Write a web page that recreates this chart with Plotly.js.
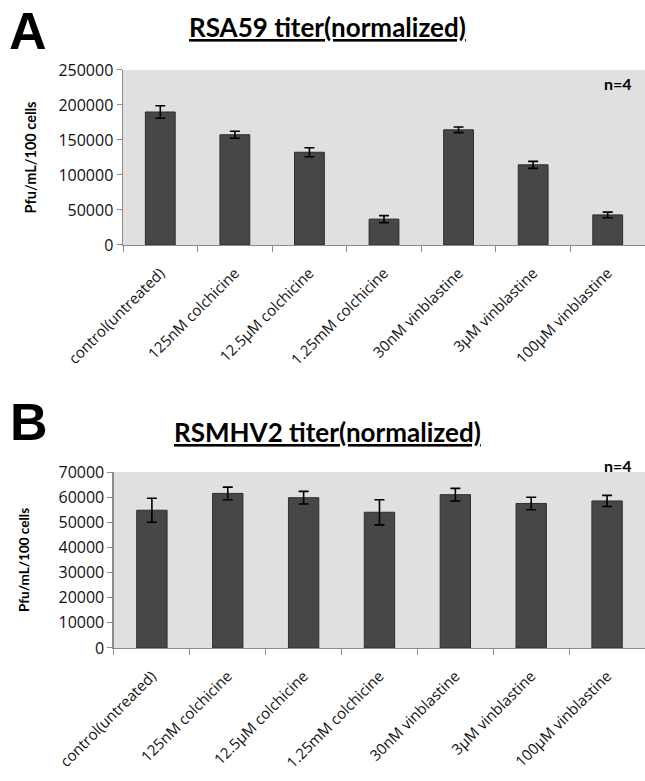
<!DOCTYPE html>
<html>
<head>
<meta charset="utf-8">
<script src="https://cdn.plot.ly/plotly-3.0.1.min.js"></script>
<style>
html,body{margin:0;padding:0;background:#fff;}
#chart{width:645px;height:781px;}
</style>
</head>
<body>
<div id="chart"></div>
<script>
const categories = ["control(untreated)", "125nM colchicine", "12.5μM colchicine", "1.25mM colchicine", "30nM vinblastine", "3μM vinblastine", "100μM vinblastine"];
const rsa59Values = [190000, 157500, 132500, 37000, 164500, 114500, 43000];
const rsa59Errors = [9000, 5000, 6500, 5000, 4000, 5000, 4000];
const rsmhv2Values = [54800, 61500, 59800, 54000, 61000, 57500, 58500];
const rsmhv2Errors = [4800, 2500, 2500, 5000, 2500, 2500, 2200];
const panelTitles = ["RSA59 titer(normalized)", "RSMHV2 titer(normalized)"];
const panelLetters = ["A", "B"];
const yAxisTitle = "Pfu/mL/100 cells";
const nLabel = "n=4";

const FONT = "'Open Sans', Lato, sans-serif";
const TFONT = "Lato, 'Open Sans', sans-serif";
const barColor = "#474747";
const bgColor = "#e0e0e0";
const axisColor = "#8c8c8c";

function barTrace(vals, errs, xa, ya) {
  return {
    type: "bar", x: categories, y: vals, xaxis: xa, yaxis: ya,
    marker: {color: barColor, line: {color: "#2e2e2e", width: 1}},
    error_y: {type: "data", array: errs, visible: true, color: "#000", thickness: 1.6, width: 5},
    hoverinfo: "skip", showlegend: false
  };
}

const data = [
  barTrace(rsa59Values, rsa59Errors, "x", "y"),
  barTrace(rsmhv2Values, rsmhv2Errors, "x2", "y2")
];

function xAxis(domain, anchor) {
  return {
    domain: domain, anchor: anchor, type: "category",
    tickson: "boundaries", ticks: "outside", ticklen: 6, tickcolor: axisColor, tickwidth: 1,
    showline: true, linecolor: axisColor, linewidth: 1.5,
    tickangle: -45, ticklabelstandoff: 12,
    tickfont: {family: FONT, size: 15, color: "#111"},
    showgrid: false, zeroline: false, fixedrange: true
  };
}
function yAxis(domain, anchor, range, dtick, standoff, tsize) {
  return {
    domain: domain, anchor: anchor, range: range, dtick: dtick, tick0: 0,
    tickformat: "d", ticks: "outside", ticklen: 5, tickcolor: axisColor,
    showline: true, linecolor: axisColor, linewidth: 1.5,
    tickfont: {family: FONT, size: 16, color: "#111"},
    showgrid: false, zeroline: false, fixedrange: true,
    title: {text: "<b>" + yAxisTitle + "</b>", font: {family: TFONT, size: tsize, color: "#000"}, standoff: standoff}
  };
}

const layout = {
  width: 645, height: 781,
  margin: {l: 0, r: 0, t: 0, b: 0},
  paper_bgcolor: "#ffffff",
  plot_bgcolor: bgColor,
  bargap: 0.6,
  font: {family: FONT},
  xaxis: xAxis([0.1907, 1], "y"),
  yaxis: yAxis([0.6863, 0.9104], "x", [0, 250000], 50000, 18, 14.5),
  xaxis2: xAxis([0.1767, 1], "y2"),
  yaxis2: yAxis([0.1703, 0.3956], "x2", [0, 70000], 10000, 26, 13.5),
  annotations: [
    {text: "<b>" + panelLetters[0] + "</b>", xref: "paper", yref: "paper", x: 0.043, y: 1, xanchor: "center", yanchor: "top", showarrow: false, font: {family: "Liberation Sans, Arial, sans-serif", size: 52, color: "#000"}},
    {text: "<b>" + panelLetters[1] + "</b>", xref: "paper", yref: "paper", x: 0.045, y: 0.4993, xanchor: "center", yanchor: "top", showarrow: false, font: {family: "Liberation Sans, Arial, sans-serif", size: 52, color: "#000"}},
    {text: "<b><u>" + panelTitles[0] + "</u></b>", xref: "paper", yref: "paper", x: 0.5085, y: 0.9648, xanchor: "center", yanchor: "middle", showarrow: false, font: {family: TFONT, size: 26, color: "#000"}},
    {text: "<b><u>" + panelTitles[1] + "</u></b>", xref: "paper", yref: "paper", x: 0.5085, y: 0.4466, xanchor: "center", yanchor: "middle", showarrow: false, font: {family: TFONT, size: 26, color: "#000"}},
    {text: "<b>" + nLabel + "</b>", xref: "paper", yref: "paper", x: 0.958, y: 0.8937, xanchor: "center", yanchor: "middle", showarrow: false, font: {family: TFONT, size: 16, color: "#000"}},
    {text: "<b>" + nLabel + "</b>", xref: "paper", yref: "paper", x: 0.958, y: 0.4046, xanchor: "center", yanchor: "middle", showarrow: false, font: {family: TFONT, size: 16, color: "#000"}}
  ]
};

Plotly.newPlot("chart", data, layout, {staticPlot: true, displayModeBar: false});
</script>
</body>
</html>
